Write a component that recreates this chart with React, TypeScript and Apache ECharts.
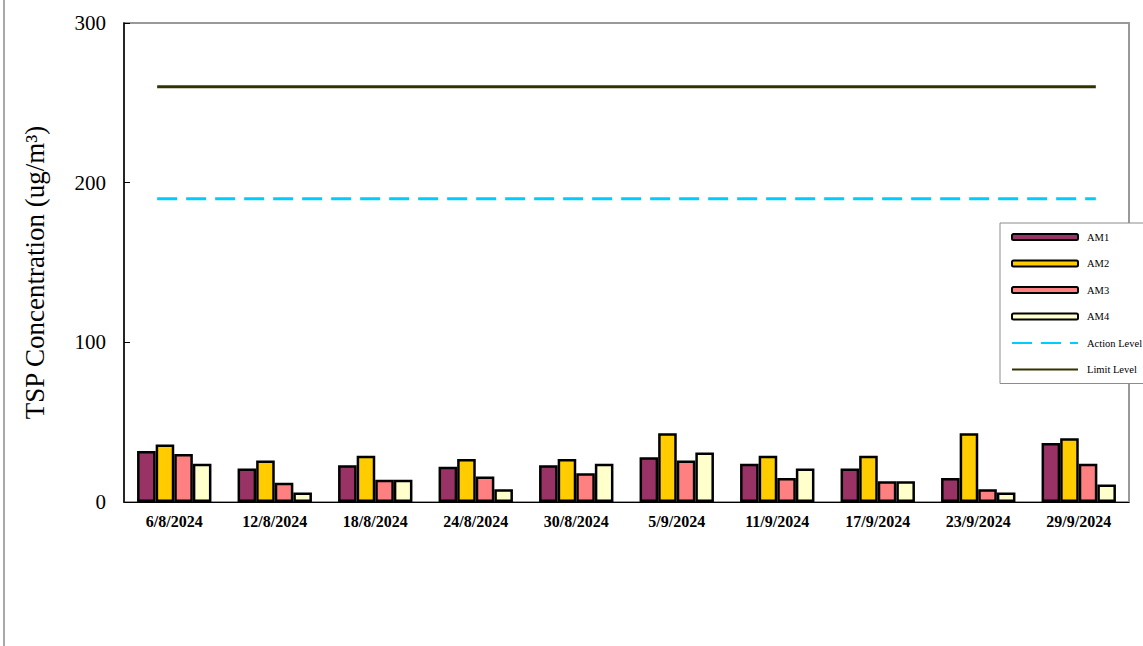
import React, { useEffect, useRef } from "react";
import * as echarts from "echarts";

const categories = ["6/8/2024", "12/8/2024", "18/8/2024", "24/8/2024", "30/8/2024", "5/9/2024", "11/9/2024", "17/9/2024", "23/9/2024", "29/9/2024"];
const am1 = [32, 21, 23, 22, 23, 28, 24, 21, 15, 37];
const am2 = [36, 26, 29, 27, 27, 43, 29, 29, 43, 40];
const am3 = [30, 12, 14, 16, 18, 26, 15, 13, 8, 24];
const am4 = [24, 6, 14, 8, 24, 31, 21, 13, 6, 11];
const actionLevel = 190;
const limitLevel = 260;
const levelSpan = [0.33, 9.67];
const yTicks = [0, 100, 200, 300];

const serif = "'Liberation Serif', 'Times New Roman', serif";

export default function App() {
  const ref = useRef<HTMLDivElement>(null);
  useEffect(() => {
    const chart = echarts.init(ref.current!, null, { renderer: "svg" });
    const barSeries = (name: string, data: number[], color: string) => ({
      name,
      type: "bar",
      xAxisIndex: 0,
      yAxisIndex: 0,
      data,
      barGap: "0%",
      barCategoryGap: "26%",
      itemStyle: { color, borderColor: "#000", borderWidth: 2.5 },
    });
    const levelSeries = (name: string, value: number, color: string, type: any) => ({
      name,
      type: "line",
      xAxisIndex: 1,
      yAxisIndex: 0,
      symbol: "none",
      showSymbol: false,
      data: levelSpan.map((x) => [x, value]),
      lineStyle: { color, width: 3, type, cap: "butt" },
      itemStyle: { color },
    });
    chart.setOption({
      animation: false,
      backgroundColor: "#fff",
      grid: {
        left: 124,
        top: 23,
        right: 14,
        bottom: 144,
        show: true,
        borderColor: "#999999",
        borderWidth: 2,
        backgroundColor: "transparent",
      },
      xAxis: [
        {
          type: "category",
          data: categories,
          boundaryGap: true,
          axisLine: { lineStyle: { color: "#000", width: 1 } },
          axisTick: { inside: true, length: 5, lineStyle: { color: "#000" } },
          axisLabel: {
            fontFamily: serif,
            fontWeight: "bold",
            fontSize: 16,
            color: "#000",
            margin: 11,
            interval: 0,
          },
          splitLine: { show: false },
        },
        {
          type: "value",
          min: 0,
          max: 10,
          show: false,
        },
      ],
      yAxis: {
        type: "value",
        min: 0,
        max: 300,
        interval: 100,
        name: "TSP Concentration (ug/m³)",
        nameLocation: "middle",
        nameGap: 76,
        nameRotate: 90,
        nameTextStyle: { fontFamily: serif, fontSize: 27, color: "#000", padding: [0, 20, 0, 0] },
        axisLine: { show: true, lineStyle: { color: "#000", width: 1.5 } },
        axisTick: { show: true, inside: true, length: 6, lineStyle: { color: "#000" } },
        axisLabel: {
          fontFamily: serif,
          fontSize: 21,
          color: "#000",
          margin: 18,
          formatter: (v: number) => (yTicks.includes(v) ? String(v) : ""),
        },
        splitLine: { show: false },
      },
      legend: {
        orient: "vertical",
        left: 1000,
        top: 223,
        padding: [8, 30, 8, 11],
        itemWidth: 66,
        itemHeight: 6,
        itemGap: 14.5,
        borderColor: "#8c8c8c",
        borderWidth: 1,
        backgroundColor: "#fff",
        textStyle: { fontFamily: serif, fontSize: 10.5, color: "#000", lineHeight: 12, padding: [0, 0, 0, 4] },
        data: [
          "AM1",
          "AM2",
          "AM3",
          "AM4",
          { name: "Action Level", itemStyle: { opacity: 0 } },
          { name: "Limit Level", itemStyle: { opacity: 0 } },
        ],
      },
      graphic: [
        {
          type: "line",
          shape: { x1: 4, y1: 0, x2: 4, y2: 646 },
          style: { stroke: "#8c8c8c", lineWidth: 1.5 },
          silent: true,
        },
      ],
      series: [
        barSeries("AM1", am1, "#993366"),
        barSeries("AM2", am2, "#FFCC00"),
        barSeries("AM3", am3, "#FF8080"),
        barSeries("AM4", am4, "#FFFFCC"),
        levelSeries("Action Level", actionLevel, "#00CCFF", [20, 9]),
        levelSeries("Limit Level", limitLevel, "#333300", "solid"),
      ],
    });
    return () => chart.dispose();
  }, []);
  return <div ref={ref} style={{ position: "fixed", left: 0, top: 0, width: 1143, height: 646 }} />;
}
